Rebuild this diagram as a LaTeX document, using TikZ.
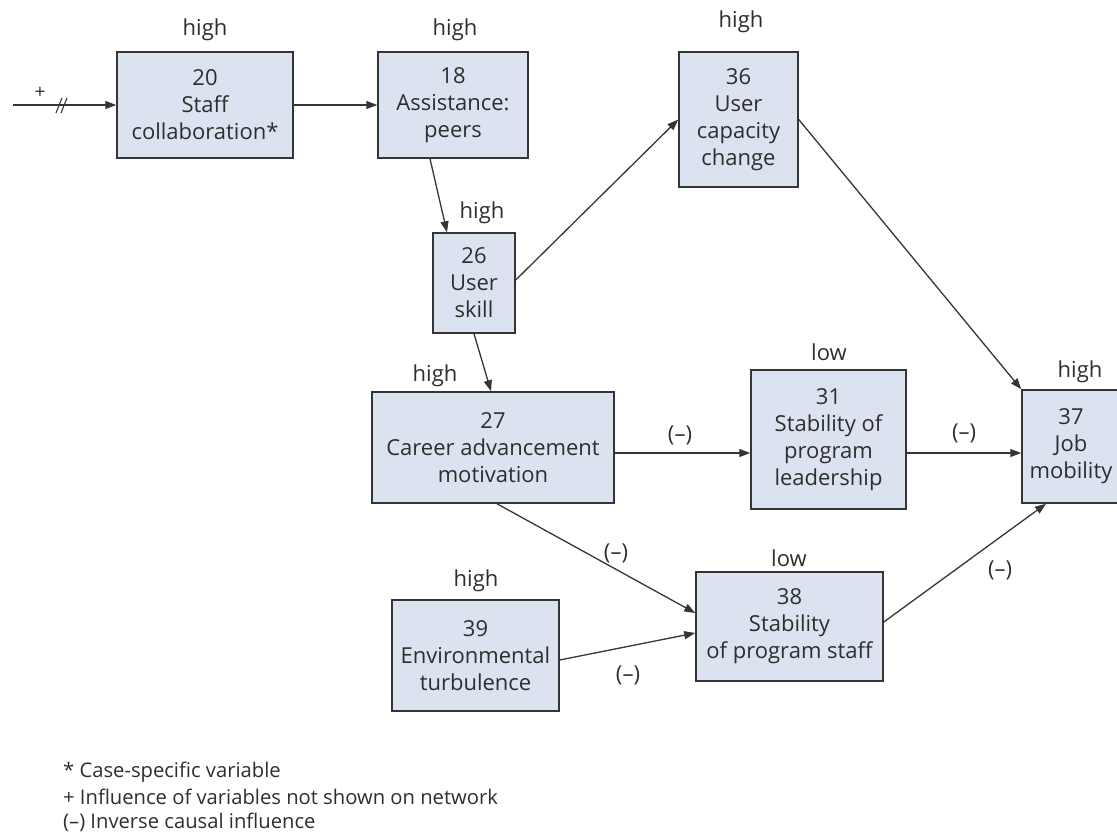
\documentclass[tikz,border=0pt]{standalone}
\usepackage{fontspec}
\setmainfont{Open Sans}
\usetikzlibrary{arrows.meta,calc}
\definecolor{boxfill}{HTML}{DCE3F0}
\definecolor{boxline}{HTML}{353535}
\definecolor{ink}{HTML}{2E2E2E}
\begin{document}
\begin{tikzpicture}[x=1pt,y=-1pt,
  txt/.style={text=ink,font=\fontsize{22}{27}\selectfont},
  var/.style={txt,draw=boxline,line width=1.5pt,fill=boxfill,align=center,inner sep=0pt},
  lvl/.style={txt},
  neg/.style={txt},
  link/.style={draw=boxline,line width=1.3pt,-{Triangle[length=11pt,width=8pt]}},
  legend/.style={txt,anchor=west,inner sep=0pt,font=\fontsize{20.2}{25}\selectfont}]
\useasboundingbox (0,0) rectangle (1117,839);

% variables
\node[var,minimum width=176pt,minimum height=106pt] (b20) at (205,105) {20\\Staff\\collaboration*};
\node[var,minimum width=150pt,minimum height=106pt] (b18) at (453,105) {18\\Assistance:\\peers};
\node[var,minimum width=119pt,minimum height=135pt] (b36) at (738.5,119.5) {36\\User\\capacity\\change};
\node[var,minimum width=82pt,minimum height=100pt] (b26) at (474,283) {26\\User\\skill};
\node[var,minimum width=242pt,minimum height=111pt] (b27) at (493,447.5) {27\\Career advancement\\motivation};
\node[var,minimum width=155pt,minimum height=139pt] (b31) at (828.5,439.5) {31\\Stability of\\program\\leadership};
\node[var,minimum width=98pt,minimum height=113pt] (b37) at (1071,446.5) {37\\Job\\mobility};
\node[var,minimum width=187pt,minimum height=109pt] (b38) at (789.5,626.5) {38\\Stability\\of program staff};
\node[var,minimum width=167pt,minimum height=111pt] (b39) at (475.5,655.5) {39\\Environmental\\turbulence};

% level labels
\node[lvl] (l20) at (205,30) {high};
\node[lvl] (l18) at (455,30) {high};
\node[lvl] (l36) at (741,22) {high};
\node[lvl] (l26) at (482,213) {high};
\node[lvl] (l27) at (435,376) {high};
\node[lvl] (l31) at (829,352) {low};
\node[lvl] (l37) at (1080,372) {high};
\node[lvl] (l38) at (789,558) {low};
\node[lvl] (l39) at (476,581) {high};

% outside influence entering the network
\coordinate (in) at (13,105);
\draw[link] (in) -- (b20.west);
\draw[draw=boxline,line width=1.1pt] (56,113) -- (62,98) (61,113) -- (67,98);
\node[txt,font=\fontsize{19}{20}\selectfont] (plus) at (40,93) {+};

% causal links (yshift is in page direction: positive moves up)
\draw[link] (b20.east) -- (b18.west);
\draw[link] ([xshift=-23pt]b18.south) -- ([xshift=-27pt]b26.north);
\draw[link] ([yshift=3pt]b26.east) -- (b36.west);
\draw[link] (b26.south) -- ([xshift=-2pt]b27.north);
\draw[link] (b36.east) -- (b37.north west);
\draw[link] ([yshift=-5.5pt]b27.east) -- ([yshift=-5.5pt]b27.east -| b31.west);
\draw[link] ([yshift=-13.5pt]b31.east) -- ([yshift=-13.5pt]b31.east -| b37.west);
\draw[link] ([xshift=4pt]b27.south) -- ([yshift=13.5pt]b38.west);
\draw[link] ([yshift=-4.5pt]b39.east) -- ([yshift=-6.5pt]b38.west);
\draw[link] ([yshift=4.5pt]b38.east) -- ([xshift=-25pt]b37.south);

% inverse influence marks
\node[neg] (n1) at (680,435) {(–)};
\node[neg] (n2) at (964,433) {(–)};
\node[neg] (n3) at (616,553) {(–)};
\node[neg] (n4) at (628,675) {(–)};
\node[neg] (n5) at (1000,570) {(–)};

% key
\node[legend] (k1) at (63,772) {* Case-specific variable};
\node[legend] (k2) at (63,797) {+ Influence of variables not shown on network};
\node[legend] (k3) at (63,822) {(–) Inverse causal influence};
\end{tikzpicture}
\end{document}
